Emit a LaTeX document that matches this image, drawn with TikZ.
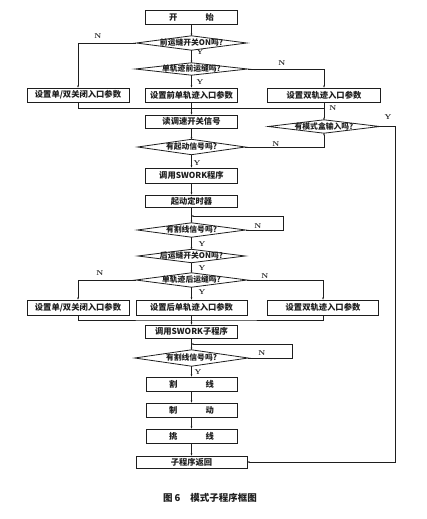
\documentclass[tikz,border=0pt]{standalone}
\usepackage{fontspec}
\usepackage{xcolor}
\usetikzlibrary{arrows.meta,positioning}
\newfontfamily\cjk{Noto Sans CJK SC}
\definecolor{FlowInk}{HTML}{1E1E1E}
\definecolor{FlowPaper}{HTML}{FFFFFF}

\begin{document}
\begin{tikzpicture}[x=1pt,y=-1pt,
  box/.style={draw=FlowInk,line width=0.8pt,fill=FlowPaper,inner sep=0pt,minimum height=14pt,font=\cjk\bfseries\fontsize{8.3}{9}\selectfont,text=FlowInk},
  dec/.style={inner sep=0pt,minimum height=14pt,font=\cjk\bfseries\fontsize{7.8}{8.5}\selectfont,text=FlowInk},
  lab/.style={inner sep=0pt,font=\bfseries\fontsize{7}{7.5}\selectfont,text=FlowInk},
  flow/.style={draw=FlowInk,line width=0.6pt,-{Stealth[length=2.2pt,width=1.8pt]}},
  wire/.style={draw=FlowInk,line width=0.6pt}]
\useasboundingbox (0,0) rectangle (427,519);
% main column
\node[box,minimum width=92pt] (start) at (191.5,17) {开\hspace{28pt}始};
\node[dec,minimum width=110pt] (d1) at (191.5,43) {前运缝开关ON吗?};
\node[dec,minimum width=112pt,minimum height=12pt] (d2) at (191.5,69) {单轨迹前运缝吗?};
\node[box,minimum width=102pt] (b1L) at (78,95) {设置单/双关闭入口参数};
\node[box,minimum width=92pt] (b1M) at (191.5,95) {设置前单轨迹入口参数};
\node[box,minimum width=113pt] (b1R) at (324,95) {设置双轨迹入口参数};
\node[box,minimum width=92pt,minimum height=13pt] (read) at (191.5,121.5) {读调速开关信号};
\node[dec,minimum width=111pt,minimum height=13pt] (d3) at (324,126.5) {有模式盒输入吗?};
\node[dec,minimum width=107pt,minimum height=15pt] (d4) at (191.5,147) {有起动信号吗?};
\node[box,minimum width=92pt,minimum height=15pt] (call1) at (191.5,175.5) {调用SWORK程序};
\node[box,minimum width=92pt,minimum height=12pt] (timer) at (191.5,201) {起动定时器};
\node[dec,minimum width=108pt] (d5) at (191.5,230) {有割线信号吗?};
\node[dec,minimum width=107pt,minimum height=13pt] (d6) at (191.5,256) {后运缝开关ON吗?};
\node[dec,minimum width=111pt] (d7) at (191.5,280) {单轨迹后运缝吗?};
\node[box,minimum width=102pt,minimum height=15pt] (b2L) at (78,307.5) {设置单/双关闭入口参数};
\node[box,minimum width=111pt,minimum height=15pt] (b2M) at (191.5,307.5) {设置后单轨迹入口参数};
\node[box,minimum width=111pt,minimum height=15pt] (b2R) at (323,307.5) {设置双轨迹入口参数};
\node[box,minimum width=92pt,minimum height=13pt] (call2) at (191.5,331.5) {调用SWORK子程序};
\node[dec,minimum width=113pt,minimum height=16pt] (d8) at (191.5,358) {有割线信号吗?};
\node[box,minimum width=91pt] (cut) at (191.5,384) {割\hspace{28pt}线};
\node[box,minimum width=91pt] (brake) at (191.5,410) {制\hspace{28pt}动};
\node[box,minimum width=91pt] (pick) at (191.5,436) {挑\hspace{28pt}线};
\node[box,minimum width=111pt,minimum height=12pt] (ret) at (191.5,462) {子程序返回};
\node[font=\cjk\bfseries\fontsize{9.5}{10}\selectfont,text=FlowInk] (cap) at (210,498) {图 6\hspace{10pt}模式子程序框图};
% decision outlines
\foreach \n in {d1,d2,d3,d4,d5,d6,d7,d8}
  \draw[FlowInk,line width=0.8pt] (\n.west) -- (\n.north) -- (\n.east) -- (\n.south) -- cycle;
% helper points
\coordinate (m1) at (324,108);
\coordinate (m2) at (191.5,320);
\coordinate (l1) at (191.5,216);
\coordinate (l2) at (191.5,344);
\coordinate (rt) at (395,462);
% connectors
\draw[flow] (start) -- (d1);
\draw[flow] (d1) -- (d2);
\draw[flow] (d1.west) -| (b1L);
\draw[flow] (d2.east) -| (b1R);
\draw[flow] (d2) -- (b1M);
\draw[wire] (b1L) |- (m1);
\draw[flow] (b1R) -- (d3);
\draw[flow] (b1M) -- (read);
\draw[flow] (read) -- (d4);
\draw[flow] (d4.east) -| (d3.south);
\draw[flow] (d3.east) -| (rt) -- (ret.east);
\draw[flow] (d4) -- (call1);
\draw[flow] (call1) -- (timer);
\draw[flow] (timer) -- (d5);
\draw[flow] (d5.east) -- ++(38,0) |- (l1);
\draw[flow] (d5) -- (d6);
\draw[flow] (d6) -- (d7);
\draw[flow] (d7.west) -| (b2L);
\draw[flow] (d7.east) -| (b2R);
\draw[flow] (d7) -- (b2M);
\draw[wire] (b2L) |- (m2) -| (b2R);
\draw[flow] (b2M) -- (call2);
\draw[flow] (call2) -- (d8);
\draw[flow] (d8.east) -- ++(44,0) |- (l2);
\draw[flow] (d8) -- (cut);
\draw[flow] (cut) -- (brake);
\draw[flow] (brake) -- (pick);
\draw[flow] (pick) -- (ret);
% branch labels
\node[lab] (n1) at (98,36) {N};
\node[lab] (y1) at (200,52) {Y};
\node[lab] (n2) at (282,63) {N};
\node[lab] (y2) at (200,82) {Y};
\node[lab] (n3) at (333,108) {N};
\node[lab] (y3) at (388,117) {Y};
\node[lab] (n4) at (276,144) {N};
\node[lab] (y4) at (197,163) {Y};
\node[lab] (n5) at (258,226) {N};
\node[lab] (y5) at (202,244) {Y};
\node[lab] (y6) at (202,268) {Y};
\node[lab] (n6) at (100,273) {N};
\node[lab] (n7) at (265,276) {N};
\node[lab] (y7) at (202,292) {Y};
\node[lab] (n8) at (262,353) {N};
\node[lab] (y8) at (198,372) {Y};
\end{tikzpicture}
\end{document}
